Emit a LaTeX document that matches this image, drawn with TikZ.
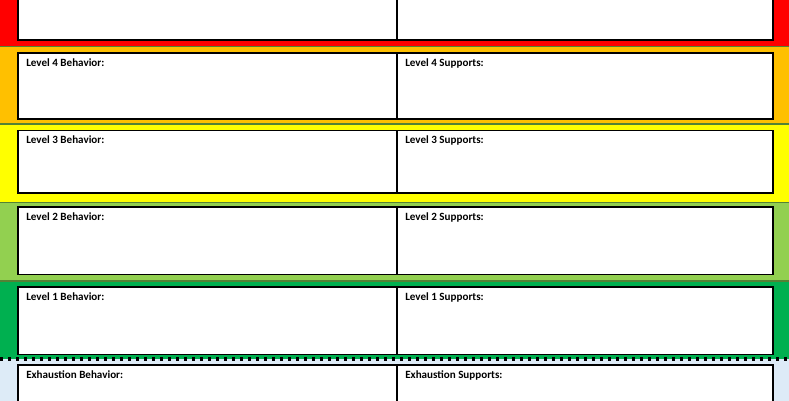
\documentclass[tikz,border=0pt]{standalone}
\usepackage{fontspec}
\setmainfont{Carlito}
\usetikzlibrary{positioning}
\definecolor{bandred}{HTML}{FF0000}
\definecolor{bandorange}{HTML}{FFC000}
\definecolor{bandyellow}{HTML}{FFFF00}
\definecolor{bandlime}{HTML}{92D050}
\definecolor{bandgreen}{HTML}{00B050}
\definecolor{bandblue}{HTML}{DDEBF7}
\definecolor{sepline}{HTML}{548235}

\begin{document}
\begin{tikzpicture}[x=0.75pt, y=-0.75pt,
    box/.style={draw=black, line width=0.9pt, fill=white},
    lbl/.style={font=\fontsize{8.3}{9}\selectfont\bfseries, inner sep=0pt, anchor=base west}]
  \useasboundingbox (0,0) rectangle (789,400);
  \clip (0,0) rectangle (789,400);

  % Colour bands
  \foreach \top/\bot/\col in {-20/46.5/bandred, 46.5/124/bandorange, 124/202.5/bandyellow,
                             202.5/280.5/bandlime, 280.5/359/bandgreen, 359/420/bandblue} {
    \fill[\col] (-5,\top) rectangle (795,\bot);
  }
  \foreach \y/\w in {46.5/0.8pt, 124/0.8pt, 202.5/0.8pt, 280.5/1.5pt} {
    \draw[sepline, line width=\w] (-5,\y) -- (795,\y);
  }

  % Top box (cut off)
  \draw[box] (18,-20) rectangle (773,40);
  \draw[line width=0.9pt] (397,-20) -- (397,40);

  % Behavior / Supports boxes
  \foreach \key/\txt/\btop/\bbot in {4/Level 4/53/119, 3/Level 3/130.5/193, 2/Level 2/207/274.5,
                                   1/Level 1/287/354.5, ex/Exhaustion/365/430} {
    \draw[box] (18,\btop) rectangle (773,\bbot);
    \draw[line width=0.9pt] (397,\btop) -- (397,\bbot);
    \node[lbl] (beh\key) at (26,\btop+13) {\txt\ Behavior:};
    \node[lbl] (sup\key) at (405,\btop+13) {\txt\ Supports:};
  }

  % Dotted separator
  \draw[black, line width=2.4pt, dash pattern=on 2.4pt off 3.6pt] (0,359) -- (789,359);
\end{tikzpicture}
\end{document}
